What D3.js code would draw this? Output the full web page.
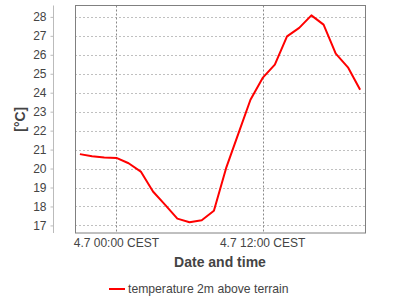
<!DOCTYPE html>
<html lang="en">
<head>
<meta charset="UTF-8">
<title>Temperature 2m above terrain</title>
<style>
    body { margin: 0; background: #fff; }
    svg text { font-family: "Liberation Sans", Arial, sans-serif; }
</style>
</head>
<body>
<div id="chart"></div>
<script src="https://d3js.org/d3.v7.min.js"></script>
<script>
// hourly values, 3.7 21:00 .. 4.7 20:00
const startHour = -3;
const temps = [20.76, 20.65, 20.58, 20.56, 20.28, 19.84, 18.79, 18.08, 17.36, 17.17,
               17.27, 17.77, 20.02, 21.83, 23.63, 24.78, 25.48, 26.97, 27.42, 28.08,
               27.59, 26.06, 25.34, 24.16];
const yTicks = [17, 18, 19, 20, 21, 22, 23, 24, 25, 26, 27, 28];
const xTicks = [0, 12];
const xTickLabels = ["4.7 00:00 CEST", "4.7 12:00 CEST"];
const seriesName = "temperature 2m above terrain";

const width = 400, height = 300;
const plot = { left: 75, top: 5.5, right: 365, bottom: 233 };

const svg = d3.select("#chart").append("svg")
    .attr("width", width)
    .attr("height", height);

const x = d3.scaleLinear()
    .domain([-3.4, 20.4])
    .range([plot.left, plot.right]);

const y = d3.scaleLinear()
    .domain([16.6, 28.6])
    .range([plot.bottom, plot.top]);

const data = temps.map((v, i) => ({ h: startHour + i, v: v }));

// horizontal grid
svg.append("g")
    .selectAll("line")
    .data(yTicks)
    .join("line")
    .attr("x1", plot.left)
    .attr("x2", plot.right)
    .attr("y1", d => Math.round(y(d)) + 0.5)
    .attr("y2", d => Math.round(y(d)) + 0.5)
    .attr("stroke", "#c0c0c0")
    .attr("stroke-dasharray", "2,2");

// vertical grid
svg.append("g")
    .selectAll("line")
    .data(xTicks)
    .join("line")
    .attr("x1", d => Math.round(x(d)) + 0.5)
    .attr("x2", d => Math.round(x(d)) + 0.5)
    .attr("y1", plot.top)
    .attr("y2", plot.bottom)
    .attr("stroke", "#888")
    .attr("stroke-dasharray", "2,2");

// plot border
svg.append("rect")
    .attr("x", plot.left + 0.5)
    .attr("y", plot.top)
    .attr("width", plot.right - plot.left)
    .attr("height", plot.bottom - plot.top)
    .attr("fill", "none")
    .attr("stroke", "#808080");

// y axis, detached to the left
const yAxis = svg.append("g")
    .attr("transform", "translate(53.5,0)")
    .call(d3.axisLeft(y).tickValues(yTicks).tickSize(3).tickPadding(4));
yAxis.select(".domain")
    .attr("d", `M0,${plot.top}V${plot.bottom}`)
    .attr("stroke", "#bbb");
yAxis.selectAll(".tick line").attr("stroke", "#bbb");
yAxis.selectAll(".tick text")
    .attr("fill", "#444")
    .style("font-size", "12px");

// x tick labels
svg.append("g")
    .selectAll("text")
    .data(xTicks)
    .join("text")
    .attr("x", d => x(d))
    .attr("y", 247)
    .attr("text-anchor", "middle")
    .attr("fill", "#444")
    .style("font-size", "12px")
    .text((d, i) => xTickLabels[i]);

// axis titles
svg.append("text")
    .attr("x", (plot.left + plot.right) / 2)
    .attr("y", 267)
    .attr("text-anchor", "middle")
    .attr("fill", "#444")
    .style("font-size", "14px")
    .style("font-weight", "bold")
    .text("Date and time");

svg.append("text")
    .attr("transform", `translate(25,${(plot.top + plot.bottom) / 2}) rotate(-90)`)
    .attr("text-anchor", "middle")
    .attr("fill", "#444")
    .style("font-size", "14px")
    .style("font-weight", "bold")
    .text("[°C]");

// series line
const line = d3.line()
    .x(d => x(d.h))
    .y(d => y(d.v));

svg.append("path")
    .datum(data)
    .attr("d", line)
    .attr("fill", "none")
    .attr("stroke", "#ff0000")
    .attr("stroke-width", 2)
    .attr("stroke-linejoin", "round");

// legend
svg.append("line")
    .attr("x1", 109)
    .attr("x2", 125)
    .attr("y1", 289)
    .attr("y2", 289)
    .attr("stroke", "#ff0000")
    .attr("stroke-width", 2);

svg.append("text")
    .attr("x", 128)
    .attr("y", 293)
    .attr("fill", "#444")
    .style("font-size", "12.2px")
    .text(seriesName);
</script>
</body>
</html>
